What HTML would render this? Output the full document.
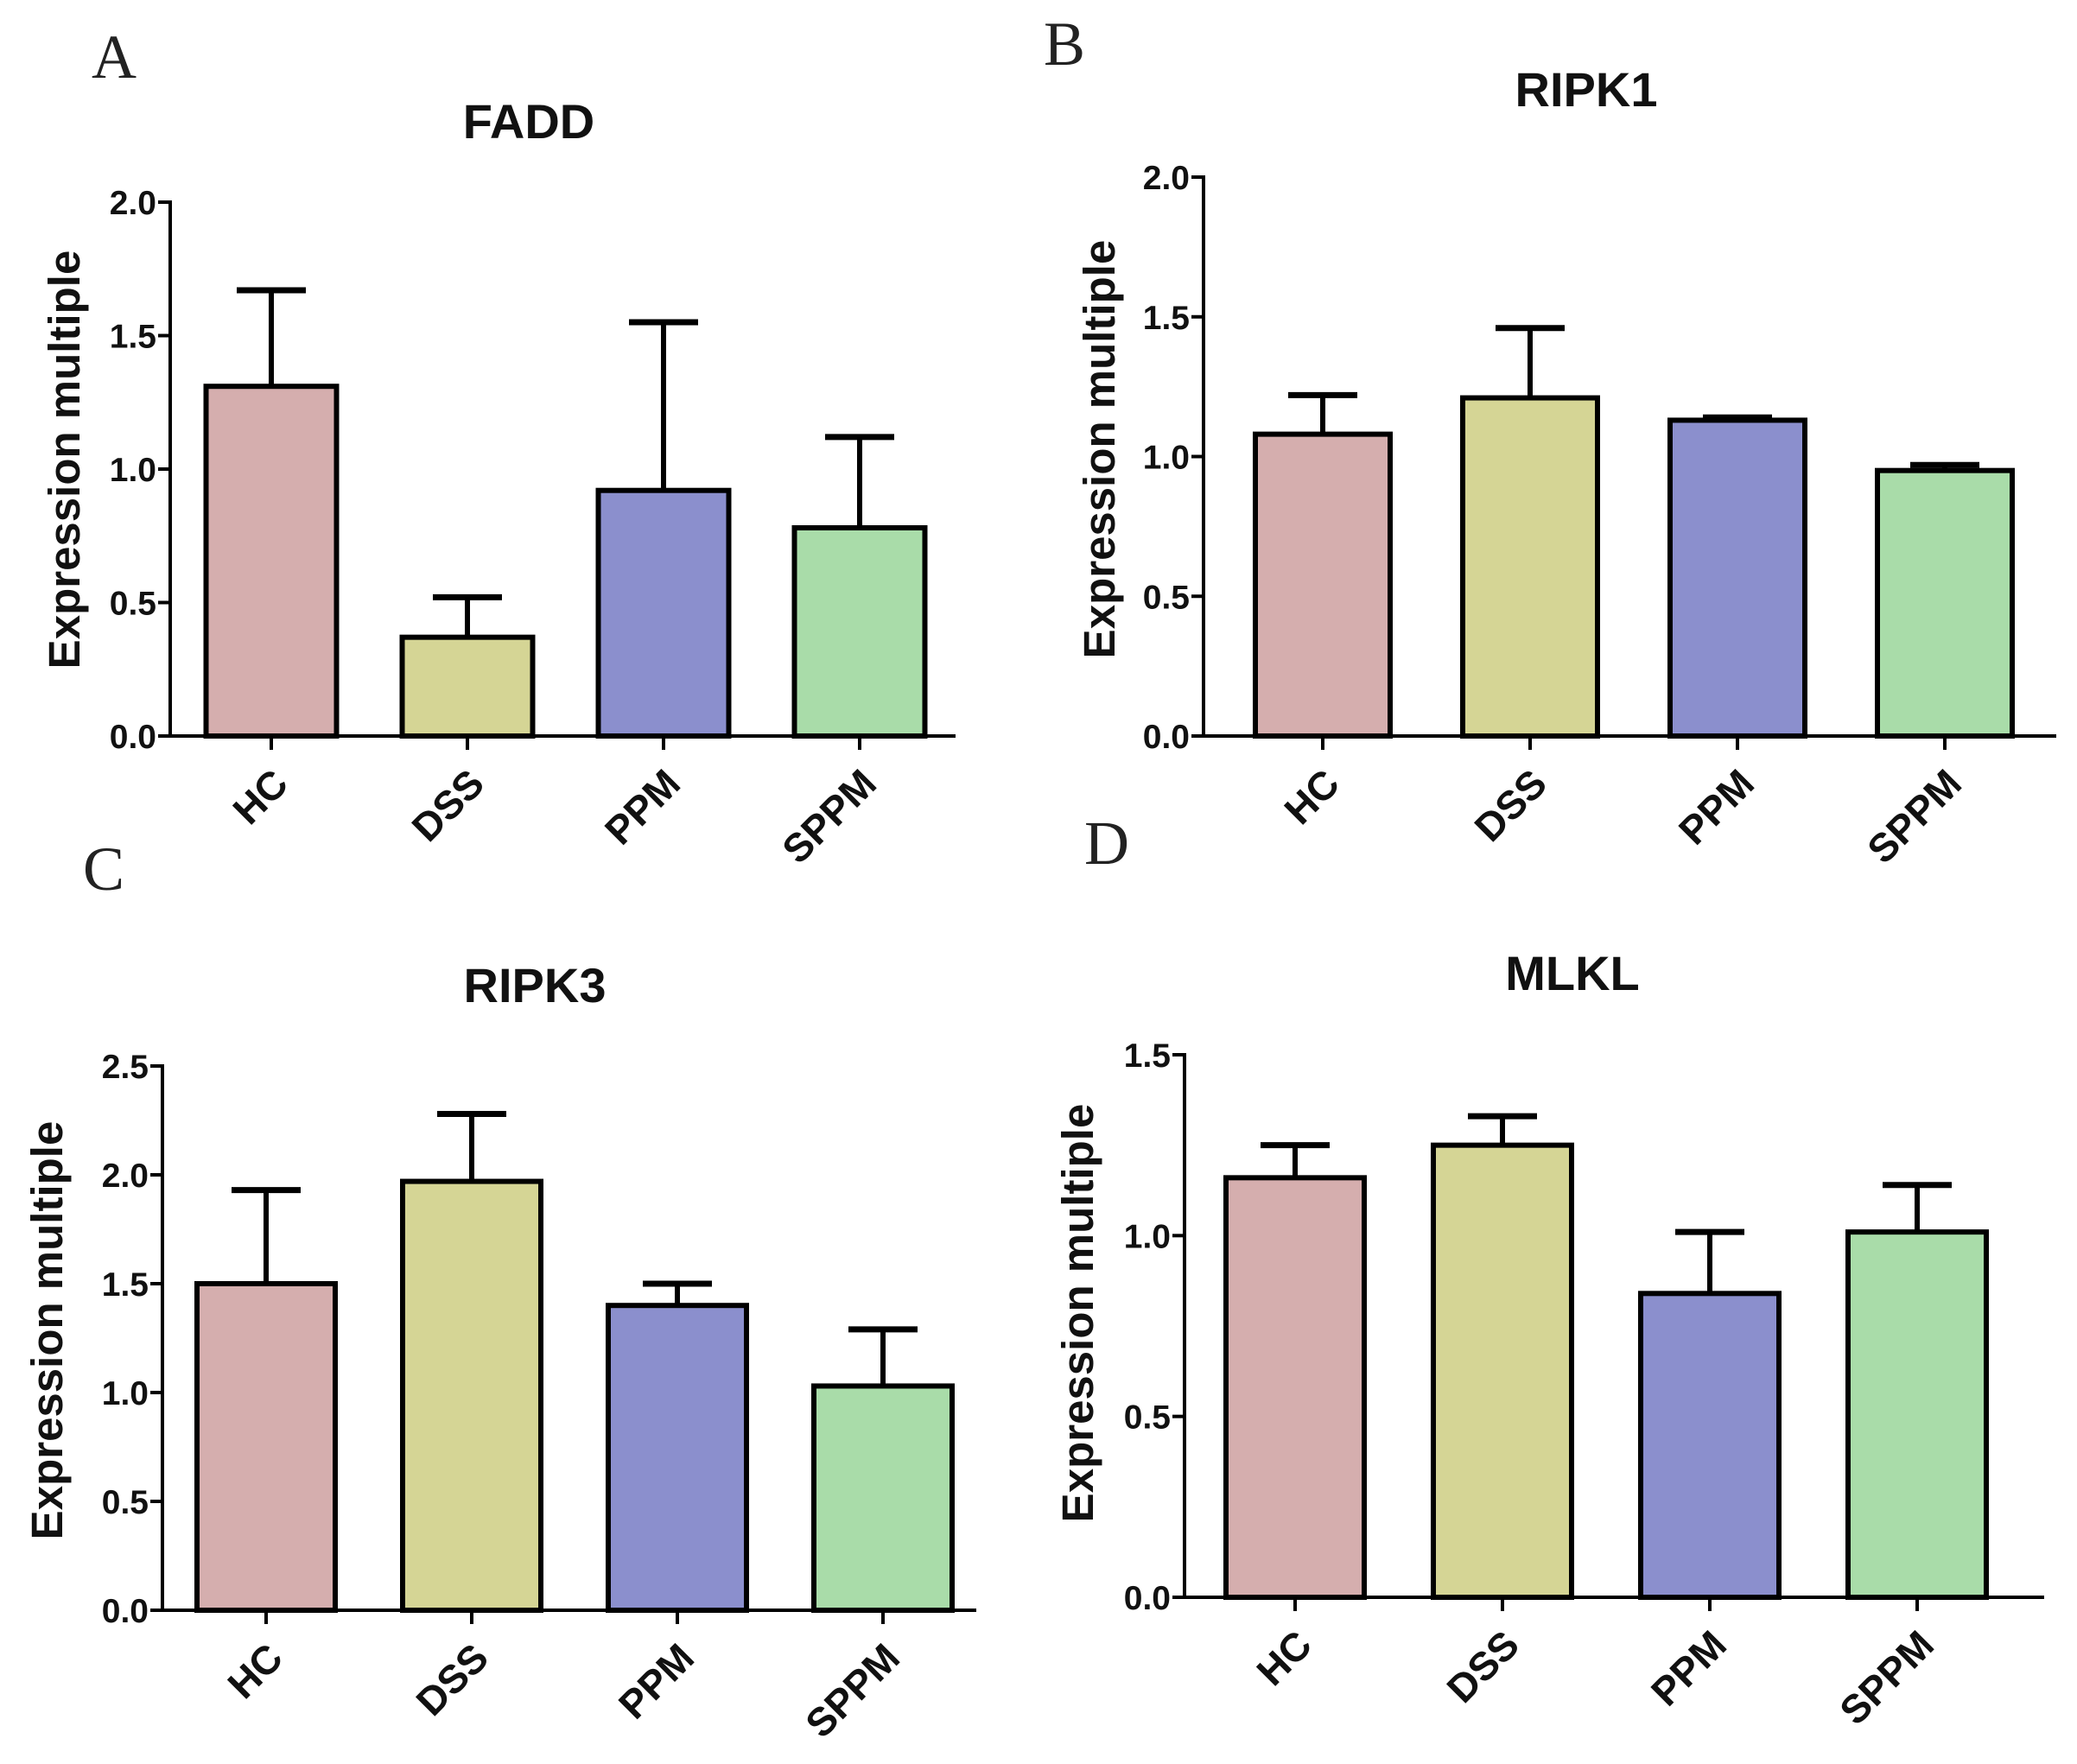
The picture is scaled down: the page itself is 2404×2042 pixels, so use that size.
<!DOCTYPE html>
<html><head><meta charset="utf-8">
<style>
html,body{margin:0;padding:0;background:#fff;}
svg{display:block;}
.tk{font-family:"Liberation Sans",sans-serif;font-weight:bold;font-size:39px;fill:#111;}
.cat{font-family:"Liberation Sans",sans-serif;font-weight:bold;font-size:46px;fill:#111;}
.ttl{font-family:"Liberation Sans",sans-serif;font-weight:bold;font-size:56px;fill:#111;}
.yl{font-family:"Liberation Sans",sans-serif;font-weight:bold;font-size:51px;fill:#111;}
.pl{font-family:"Liberation Serif",serif;font-size:72px;fill:#222;}
</style></head>
<body>
<svg id="fig" width="2404" height="2042" viewBox="0 0 2404 2042" xmlns="http://www.w3.org/2000/svg">
<text class="pl" x="106" y="90">A</text>
<text class="pl" x="1208" y="75">B</text>
<text class="pl" x="96" y="1030">C</text>
<text class="pl" x="1255" y="1000">D</text>
</svg>
<script>
const categories = ["HC","DSS","PPM","SPPM"];
const fills = ["#d5aeae","#d5d595","#8b8fcd","#a9dca9"];

const faddValues = [1.31, 0.37, 0.92, 0.78];
const faddErrors = [1.67, 0.52, 1.55, 1.12];
const faddTicks = ["0.0","0.5","1.0","1.5","2.0"];

const ripk1Values = [1.08, 1.21, 1.13, 0.95];
const ripk1Errors = [1.22, 1.46, 1.14, 0.97];
const ripk1Ticks = ["0.0","0.5","1.0","1.5","2.0"];

const ripk3Values = [1.50, 1.97, 1.40, 1.03];
const ripk3Errors = [1.93, 2.28, 1.50, 1.29];
const ripk3Ticks = ["0.0","0.5","1.0","1.5","2.0","2.5"];

const mlklValues = [1.16, 1.25, 0.84, 1.01];
const mlklErrors = [1.25, 1.33, 1.01, 1.14];
const mlklTicks = ["0.0","0.5","1.0","1.5"];

const NS = "http://www.w3.org/2000/svg";
const svg = document.getElementById("fig");
function mk(tag, attrs, parent){
  const e = document.createElementNS(NS, tag);
  for (const k in attrs) e.setAttribute(k, attrs[k]);
  (parent||svg).appendChild(e);
  return e;
}

function panel(id, title, values, errors, ticks, L){
  const g = mk("g", {});
  
  
  const yMax = parseFloat(ticks[ticks.length-1]);
  const y = v => L.y0 - (v / yMax) * (L.y0 - L.yTop);
  const xc = i => L.c0 + i * L.step;

  const t = mk("text", {x: L.titleX, y: L.titleY, "text-anchor":"middle", class:"ttl"}, g);
  t.textContent = title;
  
  

  const yl = mk("text", {x:0, y:0, "text-anchor":"middle", class:"yl",
    transform:"translate(" + (L.ylX + 18) + "," + L.ylY + ") rotate(-90)"}, g);
  yl.textContent = "Expression multiple";
  
  

  values.forEach((v, i) => {
    const cx = xc(i);
    const top = y(v), et = y(errors[i]);
    const eb = mk("line", {x1:cx, x2:cx, y1:top, y2:et, stroke:"#000", "stroke-width":6}, g);
    
    
    const cap = mk("line", {x1:cx - L.cap, x2:cx + L.cap, y1:et, y2:et, stroke:"#000", "stroke-width":7}, g);
    
    
    const r = mk("rect", {x:cx - L.bw/2, y:top, width:L.bw, height:L.y0 - top, fill:fills[i], stroke:"#000", "stroke-width":6}, g);
    
    
    const tk = mk("line", {x1:cx, x2:cx, y1:L.y0, y2:L.y0 + 16, stroke:"#000", "stroke-width":4}, g);
    
    
    const lab = mk("text", {x:0, y:0, "text-anchor":"end", class:"cat",
      transform:"translate(" + (cx + 22) + "," + (L.y0 + 58) + ") rotate(-45)"}, g);
    lab.textContent = categories[i];
    
    
  });

  const ya = mk("line", {x1:L.x0, x2:L.x0, y1:L.yTop - 2, y2:L.y0, stroke:"#000", "stroke-width":4}, g);
  
  
  const xa = mk("line", {x1:L.x0 - 14, x2:L.x1, y1:L.y0, y2:L.y0, stroke:"#000", "stroke-width":4}, g);
  
  

  ticks.forEach(tv => {
    const yy = y(parseFloat(tv));
    const tl = mk("line", {x1:L.x0 - 14, x2:L.x0, y1:yy, y2:yy, stroke:"#000", "stroke-width":4}, g);
    
    
    const tt = mk("text", {x:L.x0 - 16, y:yy + 14, "text-anchor":"end", class:"tk"}, g);
    tt.textContent = tv;
    
    
  });
}

panel("fadd", "FADD", faddValues, faddErrors, faddTicks,
  {x0:197, x1:1106, y0:852, yTop:234, c0:314, step:227, bw:151, cap:40, titleX:612, titleY:160, ylX:74, ylY:532});
panel("ripk1", "RIPK1", ripk1Values, ripk1Errors, ripk1Ticks,
  {x0:1393, x1:2380, y0:852, yTop:205, c0:1531, step:240, bw:156, cap:40, titleX:1836, titleY:123, ylX:1272, ylY:520});
panel("ripk3", "RIPK3", ripk3Values, ripk3Errors, ripk3Ticks,
  {x0:188, x1:1130, y0:1864, yTop:1234, c0:308, step:238, bw:160, cap:40, titleX:619, titleY:1160, ylX:54, ylY:1540});
panel("mlkl", "MLKL", mlklValues, mlklErrors, mlklTicks,
  {x0:1371, x1:2366, y0:1849, yTop:1221, c0:1499, step:240, bw:160, cap:40, titleX:1820, titleY:1146, ylX:1247, ylY:1520});
</script>
</body></html>
